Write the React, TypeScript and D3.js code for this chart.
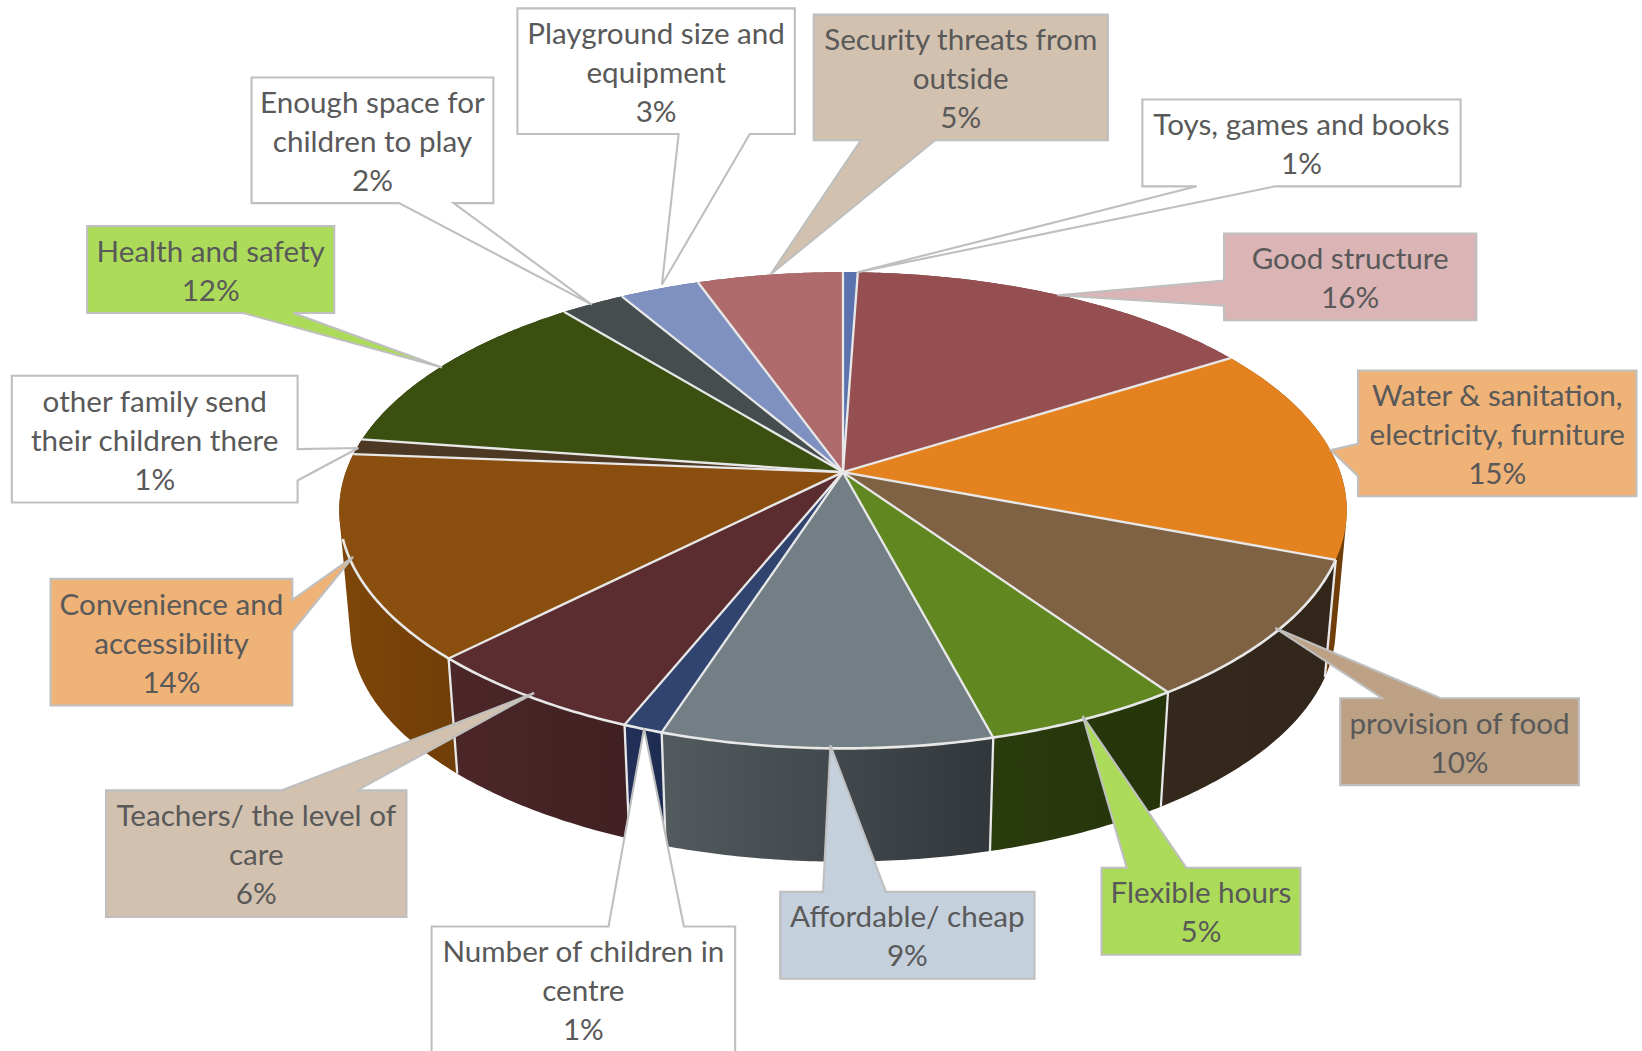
import React from "react";
import * as d3 from "d3";

// Survey answers, clockwise from twelve o'clock.
const categoryLines: string[][] = [
  ["Toys, games and books"],
  ["Good structure"],
  ["Water & sanitation,", "electricity, furniture"],
  ["provision of food"],
  ["Flexible hours"],
  ["Affordable/ cheap"],
  ["Number of children in", "centre"],
  ["Teachers/ the level of", "care"],
  ["Convenience and", "accessibility"],
  ["other family send", "their children there"],
  ["Health and safety"],
  ["Enough space for", "children to play"],
  ["Playground size and", "equipment"],
  ["Security threats from", "outside"],
];
const shares = [0.55, 15.5, 14.75, 9.6, 5.49, 9.11, 1.1, 6.3, 13.85, 1.05, 11.85, 2.4, 3.0, 5.45];

const topColors = ["#5a72ae", "#964f50", "#e48220", "#7f6244", "#618820", "#747e85", "#31446f", "#5b2d30", "#8a4e0e", "#4d3823", "#3a4f10", "#454d4f", "#7f91c0", "#af6a6b"];
const wallFrom = ["#3c4c74", "#643435", "#74400a", "#35281c", "#2a3b0e", "#535b5f", "#22305a", "#4c2729", "#7e4609", "#35271a", "#28370c", "#303637", "#556181", "#754748"];
const wallTo = ["#3c4c74", "#643435", "#6e3d0a", "#32261a", "#253409", "#32373b", "#1e2c50", "#402022", "#703e08", "#35271a", "#28370c", "#303637", "#556181", "#754748"];

type Side = "t" | "r" | "b" | "l";
// Callout boxes: [left, top, right, bottom], the edge the pointer leaves from,
// the pointer's base along that edge, and where its tip lands on the pie.
const calloutBoxes: [number, number, number, number][] = [
  [1091, 95, 1395, 178], [1169, 223, 1410, 306], [1297, 354, 1563, 474], [1280, 667, 1508, 750],
  [1052, 829, 1242, 912], [745, 852, 988, 935], [412, 885, 702, 1030], [101, 755, 388, 876],
  [48, 553, 279, 674], [11, 359, 284, 480], [83, 216, 319, 299], [240, 74, 471, 194],
  [494, 8, 759, 128], [777, 14, 1058, 134],
];
const calloutSides: Side[] = ["b", "l", "l", "t", "t", "t", "t", "t", "r", "r", "b", "b", "b", "b"];
const calloutBases: [number, number][] = [
  [1143, 1218], [268, 292], [424, 455], [1320, 1376], [1076, 1133], [786, 846], [581, 653],
  [269, 341], [573, 603], [429, 459], [232, 280], [381, 433], [648, 716], [822, 893],
];
const calloutTips: [number, number][] = [
  [819, 260], [1010, 282], [1271, 430], [1218, 600], [1034, 684], [793, 712], [615, 696],
  [510, 662], [337, 532], [342, 428], [422, 351], [565, 291], [632, 272], [736, 262],
];
const calloutFills = ["#ffffff", "#dbb5b5", "#efb277", "#bca184", "#acdb59", "#c5d0dd", "#ffffff", "#d2c1ae", "#efb277", "#ffffff", "#acdb59", "#ffffff", "#ffffff", "#d2c1ae"];

// Perspective view of the disc: the apex sits above the middle of the rim ellipse.
const apexX = 805;
const apexY = 451;
const radiusX = 475;
const radiusY = 221.6;
const tilt = 0.1604;
const floorScale = 0.978;
const floorDrop = 114;
const rimColor = "#e8e8e8";
const frontRim: [number, number] = [(110.9 * Math.PI) / 180, (254 * Math.PI) / 180];

const topPoint = (a: number): [number, number] => {
  const u = Math.sin(a);
  const v = -Math.cos(a);
  const d = 1 - tilt * v;
  return [apexX + (radiusX * u) / d, apexY + (radiusY * v) / d];
};
const floorPoint = (a: number): [number, number] => {
  const [x, y] = topPoint(a);
  return [apexX + (x - apexX) * floorScale, apexY + floorDrop + (y - apexY) * floorScale];
};
const sampleAngles = (a0: number, a1: number): number[] => {
  const steps = Math.max(2, Math.ceil((a1 - a0) / 0.01));
  return d3.range(steps + 1).map((i) => a0 + ((a1 - a0) * i) / steps);
};

const linePath = d3.line();

// A wall is the sweep of the rim down to the floor: a run of small quads, all
// wound the same way so the silhouette between the two ellipses stays filled.
const wallPath = (a0: number, a1: number): string => {
  const angles = sampleAngles(a0, a1);
  return d3
    .pairs(angles)
    .map(([p, q]) => {
      const quad: [number, number][] = [topPoint(p), topPoint(q), floorPoint(q), floorPoint(p)];
      if (d3.polygonArea(quad) < 0) quad.reverse();
      return linePath(quad) + "Z";
    })
    .join("");
};

const calloutPath = (i: number): string => {
  const [x0, y0, x1, y1] = calloutBoxes[i];
  const [a, b] = calloutBases[i];
  const tip = calloutTips[i];
  const side = calloutSides[i];
  const pts: [number, number][] = [[x0, y0]];
  if (side === "t") pts.push([a, y0], tip, [b, y0]);
  pts.push([x1, y0]);
  if (side === "r") pts.push([x1, a], tip, [x1, b]);
  pts.push([x1, y1]);
  if (side === "b") pts.push([b, y1], tip, [a, y1]);
  pts.push([x0, y1]);
  if (side === "l") pts.push([x0, b], tip, [x0, a]);
  return linePath(pts) + "Z";
};

export default function App() {
  const arcs = d3
    .pie<number>()
    .sort(null)
    .startAngle(0)
    .endAngle(2 * Math.PI)(shares);

  // Walls are painted back to front so the nearer ones win at the silhouette.
  const wallOrder = arcs
    .map((_, i) => i)
    .sort((p, q) => {
      const depth = (k: number) => -Math.cos((arcs[k].startAngle + arcs[k].endAngle) / 2);
      return depth(p) - depth(q);
    });

  return (
    <svg
      width={1642}
      height={1051}
      viewBox="0 0 1568 1004"
      style={{ position: "absolute", left: 0, top: 0, background: "#fff" }}
      fontFamily="Lato, 'Open Sans', sans-serif"
    >
      <defs>
        {arcs.map((_, i) => (
          <linearGradient key={i} id={`wall-${i}`} x1="0" x2="1" y1="0" y2="0">
            <stop offset="0" stopColor={wallFrom[i]} />
            <stop offset="1" stopColor={wallTo[i]} />
          </linearGradient>
        ))}
      </defs>

      {wallOrder.map((i) => (
        <path key={i} d={wallPath(arcs[i].startAngle, arcs[i].endAngle)} fill={`url(#wall-${i})`} />
      ))}
      {arcs.map((arc, i) => (
        <path
          key={i}
          d={linePath([topPoint(arc.startAngle), floorPoint(arc.startAngle)]) as string}
          stroke={rimColor}
          strokeWidth={2.2}
          fill="none"
        />
      ))}

      {arcs.map((arc, i) => {
        const rim = sampleAngles(arc.startAngle, arc.endAngle).map(topPoint);
        return <path key={i} d={linePath([[apexX, apexY], ...rim]) + "Z"} fill={topColors[i]} />;
      })}
      {arcs.map((arc, i) => (
        <path
          key={i}
          d={linePath([[apexX, apexY], topPoint(arc.startAngle)]) as string}
          stroke={rimColor}
          strokeWidth={2.2}
          fill="none"
        />
      ))}
      <path
        d={linePath(sampleAngles(frontRim[0], frontRim[1]).map(topPoint)) as string}
        stroke={rimColor}
        strokeWidth={2.5}
        fill="none"
      />

      {arcs.map((_, i) => {
        const [x0, y0, x1, y1] = calloutBoxes[i];
        const lines = [...categoryLines[i], `${Math.round(shares[i])}%`];
        const cx = (x0 + x1) / 2;
        const cy = (y0 + y1) / 2 + 0.1;
        const lead = 37.2;
        return (
          <g key={i}>
            <path d={calloutPath(i)} fill={calloutFills[i]} stroke="#bfbfbf" strokeWidth={2} strokeLinejoin="miter" />
            {lines.map((line, k) => (
              <text
                key={k}
                x={cx}
                y={(i === 6 ? y0 + 60 : cy) + (k - (lines.length - 1) / 2) * lead}
                textAnchor="middle"
                dominantBaseline="central"
                fontSize={28.3}
                fill="#595959"
              >
                {line}
              </text>
            ))}
          </g>
        );
      })}
    </svg>
  );
}
